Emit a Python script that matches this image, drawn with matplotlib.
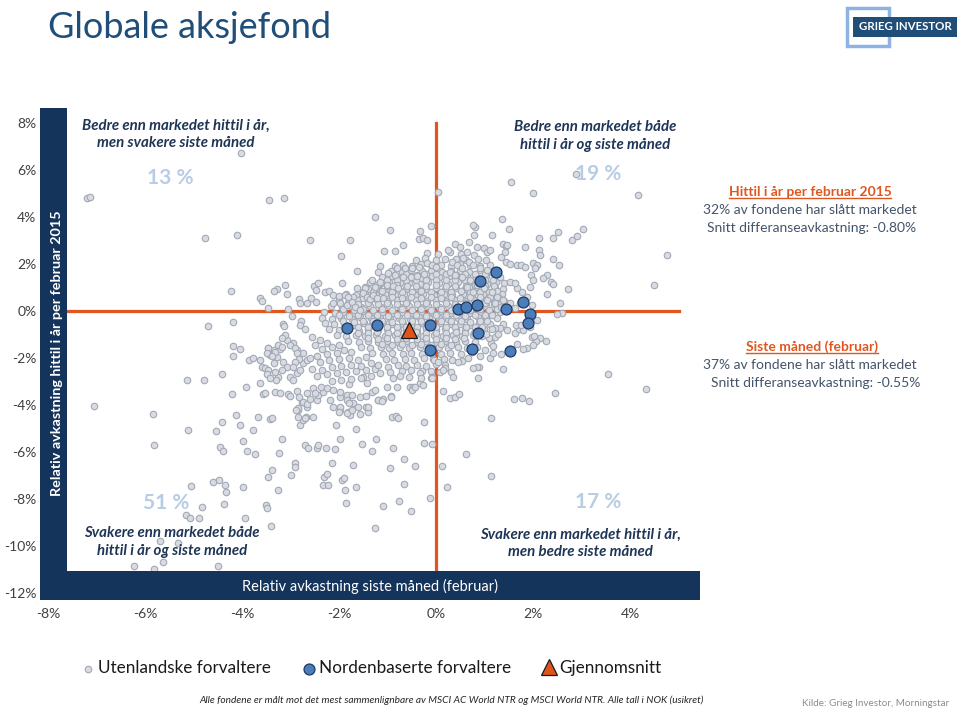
import matplotlib
matplotlib.use('Agg')
import matplotlib.pyplot as plt
from matplotlib.patches import Rectangle
from matplotlib.lines import Line2D

plt.rcParams['font.family'] = ['Lato', 'DejaVu Sans']

# ---------------- data (percent) ----------------
xticks = [-8, -6, -4, -2, 0, 2, 4]
xtick_labels = ['-8%', '-6%', '-4%', '-2%', '0%', '2%', '4%']
yticks = [-12, -10, -8, -6, -4, -2, 0, 2, 4, 6, 8]
ytick_labels = ['-12%', '-10%', '-8%', '-6%', '-4%', '-2%', '0%', '2%', '4%', '6%', '8%']

foreign_upper_left = [
    (-7.20, 4.81), (-7.14, 4.87), (-4.02, 6.74), (-3.44, 4.72), (-3.13, 4.81), (-4.76, 3.11), (-4.10, 3.23),
    (-2.60, 3.02), (-1.77, 3.02), (-1.96, 2.34), (-1.63, 1.70), (-4.23, 0.85), (-3.11, 1.11), (-3.28, 0.94),
    (-3.34, 0.85), (-3.07, 0.72), (-3.63, 0.55), (-3.59, 0.43), (-3.46, 0.13), (-3.05, 0.09), (-2.82, 0.51),
    (-2.80, 0.34), (-2.52, 1.06), (-2.43, 1.19), (-2.47, 0.89), (-2.58, 0.55), (-2.66, 0.34), (-1.94, 1.19),
    (-1.46, 1.02), (-1.26, 4.01), (-0.95, 3.43), (-0.33, 3.40), (-0.36, 3.06), (-0.27, 3.09), (-0.18, 3.02),
    (-0.10, 3.62), (-1.07, 2.57), (-0.85, 2.57), (-0.69, 2.81), (-1.15, 1.93), (-0.85, 1.93), (-1.19, 1.65),
    (-0.98, 1.60), (-0.85, 1.53), (-0.69, 1.43), (-0.80, 1.82), (-0.64, 1.82), (-0.50, 1.84), (-0.36, 1.89),
    (-0.19, 2.03), (-0.09, 1.96), (0.01, 1.89), (-0.52, 1.46), (-0.39, 1.50), (-0.25, 1.56), (-1.33, 1.32),
    (-1.22, 1.11), (-1.15, 1.25), (-1.46, 0.99), (-1.26, 1.03), (-1.02, 1.11), (-0.88, 1.08), (-0.78, 0.99),
    (-2.29, 0.82), (-2.20, 0.85), (-2.12, 0.68), (-1.99, 0.64), (-1.88, 0.68), (-1.81, 0.60), (-2.47, 0.37),
    (-2.12, 0.33), (-1.98, 0.35), (-1.84, 0.26), (-1.74, 0.40), (-1.67, 0.18), (-1.57, 0.04), (-1.50, 0.75),
    (-1.43, 0.61), (-1.36, 0.51), (-1.29, 0.68), (-1.22, 0.54),
]

foreign_upper_right = [
    (0.04, 5.06), (1.55, 5.49), (2.00, 5.02), (4.16, 4.94), (2.89, 5.83), (4.76, 2.40), (4.49, 1.11),
    (1.37, 3.93), (1.51, 3.48), (0.80, 3.59), (0.77, 3.66), (0.79, 3.23), (1.16, 3.23), (1.39, 2.84),
    (1.44, 2.78), (1.84, 2.74), (2.12, 3.11), (2.42, 3.11), (2.51, 3.35), (2.81, 3.02), (2.91, 3.20),
    (3.04, 3.49), (2.12, 2.60), (2.14, 2.38), (2.41, 2.21), (2.54, 1.94), (2.01, 2.06), (2.08, 1.94),
    (1.68, 1.94), (1.76, 1.94), (1.84, 1.89), (2.73, 0.92), (2.56, 0.35), (2.60, -0.10), (2.29, 1.53),
    (2.38, 1.23), (2.41, 1.16), (2.20, 1.39), (2.29, 0.72), (2.49, -0.14), (0.39, 2.84), (0.25, 2.60),
    (0.49, 2.71), (0.63, 2.52), (0.69, 2.95), (0.84, 2.74), (0.98, 2.67), (1.05, 2.52), (1.11, 2.60),
    (1.46, 2.81), (1.42, 2.52), (1.34, 2.31), (1.44, 2.10), (1.53, 1.99), (2.04, 1.82), (1.95, 1.53),
    (2.01, 1.32), (1.94, 1.03), (1.87, 0.61), (1.77, 0.80), (1.66, 0.97), (1.73, 0.33), (1.97, 0.26),
    (0.56, 2.24), (0.67, 2.10), (0.77, 1.96), (0.91, 1.82), (1.05, 1.74), (1.18, 1.60), (1.32, 1.46),
    (1.53, 1.25), (1.63, 1.18), (0.32, 2.10), (0.43, 1.96), (0.53, 1.82), (0.29, 1.67), (0.39, 1.53),
    (0.53, 1.46), (0.70, 1.32), (0.84, 1.11), (0.98, 0.97), (1.15, 0.82), (1.25, 0.61), (1.39, 0.47),
    (1.53, 0.33), (1.63, 0.11), (0.63, 1.03), (0.77, 0.82), (0.91, 0.61), (1.05, 0.47), (1.22, 0.33),
    (1.35, 0.18), (1.49, 0.04),
]

foreign_lower_right = [
    (2.08, -0.38), (2.14, -1.16), (2.27, -1.26), (2.06, -1.26), (2.01, -1.45), (1.97, -1.09), (2.02, -1.05),
    (1.68, -1.42), (1.87, -1.59), (1.80, -1.63), (1.63, -0.95), (1.72, -0.78), (1.79, -0.81), (1.65, -0.60),
    (1.75, -0.60), (1.94, -0.69), (1.46, -0.81), (1.38, -0.55), (1.34, -1.84), (1.11, -1.99), (1.18, -1.77),
    (1.13, -1.37), (1.18, -1.49), (1.22, -1.09), (1.28, -0.98), (1.32, -0.74), (1.22, -0.71), (1.15, -0.78),
    (1.09, -1.16), (1.03, -0.98), (0.88, -2.40), (0.84, -2.40), (0.76, -2.44), (0.87, -2.84), (1.39, -2.47),
    (0.54, -2.11), (0.46, -2.16), (0.30, -2.58), (0.36, -2.80), (0.19, -2.44), (0.15, -2.51), (0.15, -3.39),
    (0.29, -3.69), (0.39, -3.65), (0.48, -3.53), (1.61, -3.73), (1.78, -3.69), (1.91, -3.83), (2.45, -3.48),
    (1.14, -4.57), (3.55, -2.68), (4.33, -3.31), (0.62, -6.10), (1.13, -7.02), (0.23, -7.48), (0.12, -6.60),
    (-0.05, -2.09), (0.05, -2.16), (-0.09, -2.80), (0.85, -1.55), (1.00, -1.65), (0.75, -1.75), (0.90, -1.90),
    (0.65, -2.00), (0.70, -1.60),
]

foreign_lower_left = [
    (-0.12, -7.97), (-0.24, -5.63), (-0.09, -5.67), (-0.25, -4.71), (-0.43, -6.60), (-0.67, -6.30),
    (-0.89, -5.84), (-0.95, -6.69), (-0.67, -7.35), (-0.77, -8.09), (-0.52, -8.51), (-1.10, -8.29),
    (-1.25, -9.25), (-1.23, -5.43), (-1.31, -5.96), (-0.91, -4.52), (-0.82, -4.47), (-0.79, -4.54),
    (-1.20, -3.79), (-1.09, -3.73), (-0.93, -3.60), (-1.44, -4.10), (-1.40, -4.29), (-0.54, -3.25),
    (-0.47, -3.22), (-0.33, -3.08), (-0.10, -2.86), (-1.33, -3.43), (-1.43, -3.08), (-1.50, -2.80),
    (-7.05, -4.04), (-5.83, -4.40), (-5.81, -5.71), (-5.14, -2.94), (-4.78, -2.94), (-4.42, -2.69),
    (-4.19, -1.91), (-4.04, -1.62), (-4.19, -1.49), (-5.11, -5.06), (-4.54, -5.09), (-4.42, -4.71),
    (-4.45, -5.77), (-4.39, -5.94), (-4.13, -4.44), (-4.04, -4.85), (-3.97, -5.54), (-3.90, -5.94),
    (-3.73, -6.09), (-3.77, -5.06), (-3.66, -4.52), (-3.42, -4.61), (-4.20, -3.54), (-3.92, -3.22),
    (-3.63, -3.08), (-3.56, -3.54), (-3.32, -3.45), (-3.22, -3.50), (-3.05, -3.54), (-5.05, -7.43),
    (-4.59, -7.29), (-4.47, -7.19), (-4.36, -7.40), (-4.32, -7.71), (-3.97, -7.49), (-4.82, -8.35),
    (-5.16, -8.68), (-5.07, -8.82), (-4.88, -8.82), (-4.37, -8.21), (-3.94, -8.82), (-3.51, -8.24),
    (-3.49, -8.40), (-3.40, -9.15), (-3.26, -7.62), (-3.46, -7.08), (-3.39, -6.77), (-3.17, -5.43),
    (-3.23, -6.04), (-3.00, -6.98), (-2.90, -6.48), (-2.91, -6.63), (-2.70, -5.70), (-2.63, -5.84),
    (-2.45, -5.82), (-2.43, -5.70), (-2.27, -5.84), (-2.08, -5.86), (-2.32, -7.40), (-2.23, -7.42),
    (-2.30, -7.05), (-2.24, -6.94), (-2.15, -6.48), (-1.94, -7.19), (-1.90, -7.09), (-1.88, -7.62),
    (-1.86, -8.18), (-1.64, -7.48), (-1.72, -6.55), (-1.53, -5.67), (-1.64, -5.01), (-1.97, -5.43),
    (-2.07, -4.84), (-1.81, -4.29), (-1.77, -4.43), (-6.22, -10.85), (-5.81, -10.99), (-4.50, -10.85),
    (-5.62, -10.69), (-5.31, -9.89), (-5.69, -9.77), (-2.80, -4.85), (-2.74, -4.64), (-2.68, -4.52),
    (-2.84, -4.21), (-4.70, -0.64), (-4.18, -0.47), (-3.46, -1.57), (-3.86, -2.09), (-3.77, -2.01),
    (-3.63, -2.09), (-3.42, -1.87), (-3.35, -1.66), (-3.22, -1.63), (-3.28, -1.94), (-3.35, -2.23),
    (-3.15, -2.16), (-3.08, -2.37), (-3.18, -2.51), (-3.25, -2.80), (-3.01, -2.80), (-2.94, -2.94),
    (-2.87, -2.65), (-2.80, -2.51), (-2.74, -2.23), (-2.67, -2.09), (-2.74, -1.80), (-2.87, -1.66),
    (-2.94, -1.37), (-3.08, -1.23), (-3.11, -1.02), (-2.67, -3.50), (-2.77, -3.86), (-2.67, -4.07),
    (-2.46, -3.79), (-2.43, -3.57), (-2.32, -3.43), (-2.53, -3.29), (-2.19, -3.79), (-2.12, -4.07),
    (-1.98, -3.65), (-1.84, -3.57), (-1.98, -4.21), (-1.84, -4.36), (-1.71, -3.93), (-1.57, -3.65),
    (-3.16, -0.55), (-3.13, -0.64), (-2.96, -0.21), (-2.78, -0.43), (-2.80, -0.60), (-2.70, -0.78),
    (-3.17, -1.16), (-3.25, -1.43), (-3.18, -1.54), (-3.46, -1.59), (-3.49, -1.80), (-3.32, -1.73),
    (-3.39, -1.90), (-3.01, -1.45), (-2.91, -1.59), (-2.87, -1.80), (-2.82, -2.06), (-2.91, -2.16),
    (-2.94, -2.37), (-3.59, -2.37), (-3.53, -2.44), (-3.46, -2.51), (-3.49, -2.68), (-3.32, -2.58),
    (-3.30, -2.94), (-3.42, -2.86), (-3.53, -3.50), (-3.02, -3.60), (-2.87, -3.40), (-2.82, -3.65),
    (-2.75, -3.86), (-2.67, -3.97), (-2.84, -4.11), (-2.89, -4.21), (-2.60, -3.74), (-2.49, -3.50),
    (-2.37, -3.25), (-2.25, -3.26), (-2.12, -3.36), (-1.98, -3.43), (-1.79, -3.11), (-1.74, -3.57),
    (-1.84, -3.79), (-1.98, -4.07), (-2.00, -4.29), (-1.80, -3.90), (-1.74, -4.21), (-1.60, -4.07),
    (-1.57, -4.38), (-1.40, -4.10), (-1.44, -3.60), (-1.26, -3.36), (-1.19, -3.79), (-1.12, -3.82),
    (-0.93, -3.65), (-1.02, -3.22), (-0.81, -3.22), (-0.89, -2.86), (-0.50, -3.36), (-0.43, -3.25),
    (-0.27, -3.16), (-0.09, -2.86), (-0.33, -2.65), (-3.39, -4.54), (-2.84, -4.50), (-2.70, -4.57),
    (-2.53, -4.50), (-2.55, -1.10), (-2.40, -1.25), (-2.25, -1.35), (-2.50, -1.45), (-2.35, -1.60),
    (-2.15, -1.55), (-2.00, -1.45), (-1.90, -1.65), (-1.75, -1.75), (-2.05, -1.80), (-2.25, -1.85),
    (-2.45, -1.90), (-2.60, -2.00), (-2.40, -2.15), (-2.20, -2.10), (-2.00, -2.05), (-1.80, -2.00),
    (-1.60, -2.10), (-1.45, -1.95), (-1.35, -2.20), (-1.55, -2.35), (-1.75, -2.30), (-1.95, -2.35),
    (-2.15, -2.40), (-2.35, -2.50), (-2.55, -2.45), (-2.45, -2.75), (-2.25, -2.70), (-2.05, -2.65),
    (-1.85, -2.60), (-1.65, -2.55), (-1.45, -2.50), (-1.25, -2.45), (-1.15, -2.65), (-1.35, -2.75),
    (-1.55, -2.85), (-1.75, -2.90), (-1.95, -2.95), (-2.15, -3.00), (-1.20, -2.30), (-1.00, -2.40),
    (-0.95, -2.60), (-0.70, -2.55), (-0.75, -2.75), (-0.55, -2.80), (-0.30, -2.85),
]

foreign_core = [
    (-0.18, 2.47), (0.04, 2.42), (0.28, 2.50), (0.52, 2.44), (0.78, 2.40),
    (-0.42, 2.18), (-0.22, 2.24), (0.00, 2.17), (0.19, 2.22), (0.41, 2.20), (0.62, 2.16), (0.86, 2.23), (1.04, 2.19),
    (-0.68, 1.97), (-0.50, 1.93), (-0.31, 1.98), (-0.10, 1.94), (0.10, 1.96), (0.30, 1.92), (0.49, 1.98),
    (0.71, 1.95), (0.90, 1.91), (1.12, 1.97),
    (-0.92, 1.72), (-0.70, 1.68), (-0.52, 1.73), (-0.29, 1.69), (-0.10, 1.71), (0.12, 1.67), (0.31, 1.72),
    (0.50, 1.70), (0.69, 1.66), (0.91, 1.73), (1.10, 1.69), (1.28, 1.71),
    (-1.12, 1.44), (-0.90, 1.48), (-0.71, 1.43), (-0.49, 1.46), (-0.31, 1.42), (-0.09, 1.47), (0.07, 1.44),
    (0.26, 1.48), (0.46, 1.43), (0.64, 1.46), (0.86, 1.42), (1.04, 1.47), (1.24, 1.44),
    (-1.36, 1.22), (-1.14, 1.18), (-0.96, 1.23), (-0.74, 1.19), (-0.56, 1.21), (-0.34, 1.17), (-0.16, 1.22),
    (0.06, 1.20), (0.24, 1.16), (0.46, 1.23), (0.66, 1.19), (0.84, 1.21), (1.06, 1.17), (1.24, 1.22), (1.41, 1.20),
    (-1.62, 0.97), (-1.41, 0.93), (-1.19, 0.96), (-1.01, 0.92), (-0.79, 0.97), (-0.61, 0.94), (-0.39, 0.98),
    (-0.21, 0.93), (0.01, 0.96), (0.19, 0.92), (0.41, 0.97), (0.59, 0.94), (0.81, 0.98), (0.99, 0.93),
    (1.21, 0.96), (1.39, 0.92),
    (-1.86, 0.72), (-1.64, 0.68), (-1.46, 0.71), (-1.24, 0.67), (-1.06, 0.73), (-0.84, 0.69), (-0.66, 0.72),
    (-0.44, 0.68), (-0.26, 0.71), (-0.04, 0.67), (0.16, 0.72), (0.34, 0.69), (0.56, 0.73), (0.74, 0.68),
    (0.96, 0.71), (1.14, 0.67), (1.36, 0.72),
    (-2.01, 0.47), (-1.79, 0.43), (-1.61, 0.46), (-1.39, 0.42), (-1.21, 0.47), (-0.99, 0.44), (-0.81, 0.48),
    (-0.59, 0.43), (-0.41, 0.46), (-0.19, 0.42), (0.01, 0.47), (0.21, 0.44), (0.39, 0.48), (0.61, 0.43),
    (0.79, 0.46), (1.01, 0.42), (1.19, 0.47), (1.41, 0.44),
    (-2.16, 0.22), (-1.94, 0.18), (-1.76, 0.21), (-1.54, 0.17), (-1.36, 0.23), (-1.14, 0.19), (-0.96, 0.22),
    (-0.74, 0.18), (-0.56, 0.21), (-0.34, 0.17), (-0.16, 0.22), (0.06, 0.19), (0.24, 0.23), (0.46, 0.18),
    (0.64, 0.21), (0.86, 0.17), (1.04, 0.22), (1.26, 0.19), (1.44, 0.20),
    (-2.31, -0.03), (-2.09, -0.07), (-1.91, -0.04), (-1.69, -0.08), (-1.51, -0.02), (-1.29, -0.06),
    (-1.11, -0.03), (-0.89, -0.07), (-0.71, -0.04), (-0.49, -0.08), (-0.31, -0.03), (-0.09, -0.06),
    (0.11, -0.02), (0.29, -0.07), (0.51, -0.04), (0.69, -0.08), (0.91, -0.03), (1.09, -0.06), (1.31, -0.04),
    (-2.36, -0.28), (-2.14, -0.32), (-1.96, -0.29), (-1.74, -0.33), (-1.56, -0.27), (-1.34, -0.31),
    (-1.16, -0.28), (-0.94, -0.32), (-0.76, -0.29), (-0.54, -0.33), (-0.36, -0.27), (-0.14, -0.31),
    (0.06, -0.28), (0.24, -0.32), (0.46, -0.29), (0.64, -0.33), (0.86, -0.27), (1.04, -0.31), (1.26, -0.29),
    (-2.29, -0.53), (-2.11, -0.57), (-1.89, -0.54), (-1.71, -0.58), (-1.49, -0.52), (-1.31, -0.56),
    (-1.09, -0.53), (-0.91, -0.57), (-0.69, -0.54), (-0.51, -0.58), (-0.29, -0.52), (-0.11, -0.56),
    (0.09, -0.53), (0.31, -0.57), (0.49, -0.54), (0.71, -0.58), (0.89, -0.52), (1.11, -0.56),
    (-2.21, -0.78), (-1.99, -0.82), (-1.81, -0.79), (-1.59, -0.83), (-1.41, -0.77), (-1.19, -0.81),
    (-1.01, -0.78), (-0.79, -0.82), (-0.61, -0.79), (-0.39, -0.83), (-0.21, -0.77), (0.01, -0.81),
    (0.19, -0.78), (0.41, -0.82), (0.59, -0.79), (0.81, -0.83), (0.99, -0.78),
    (-2.04, -1.03), (-1.86, -1.07), (-1.64, -1.04), (-1.46, -1.08), (-1.24, -1.02), (-1.06, -1.06),
    (-0.84, -1.03), (-0.66, -1.07), (-0.44, -1.04), (-0.26, -1.08), (-0.04, -1.02), (0.14, -1.06),
    (0.36, -1.03), (0.54, -1.07), (0.76, -1.04), (0.94, -1.08),
    (-1.81, -1.28), (-1.59, -1.32), (-1.41, -1.29), (-1.19, -1.33), (-1.01, -1.27), (-0.79, -1.31),
    (-0.61, -1.28), (-0.39, -1.32), (-0.21, -1.29), (0.01, -1.33), (0.19, -1.27), (0.41, -1.31),
    (0.59, -1.28), (0.81, -1.32),
    (-1.54, -1.53), (-1.36, -1.57), (-1.14, -1.54), (-0.96, -1.58), (-0.74, -1.52), (-0.56, -1.56),
    (-0.34, -1.53), (-0.16, -1.57), (0.06, -1.54), (0.24, -1.58), (0.46, -1.52), (0.64, -1.56),
    (-1.31, -1.78), (-1.09, -1.82), (-0.91, -1.79), (-0.69, -1.83), (-0.51, -1.77), (-0.29, -1.81),
    (-0.11, -1.78), (0.11, -1.82), (0.29, -1.79), (0.51, -1.83),
    (-1.04, -2.03), (-0.86, -2.07), (-0.64, -2.04), (-0.46, -2.08), (-0.24, -2.02), (-0.06, -2.06),
    (0.16, -2.03), (0.34, -2.07),
    (-0.79, -2.28), (-0.61, -2.32), (-0.39, -2.29), (-0.21, -2.33), (0.01, -2.27), (0.19, -2.31),
    (-0.51, -2.53), (-0.29, -2.57), (-0.11, -2.54), (0.09, -2.58),
]

foreign_core_inner = [
    (-0.61, 1.58), (-0.40, 1.55), (-0.21, 1.59), (0.01, 1.56), (0.20, 1.58), (0.41, 1.55), (0.59, 1.59),
    (0.80, 1.56), (1.00, 1.58),
    (-1.01, 1.33), (-0.80, 1.30), (-0.61, 1.34), (-0.41, 1.31), (-0.20, 1.33), (0.00, 1.30), (0.21, 1.34),
    (0.39, 1.31), (0.60, 1.33), (0.81, 1.30), (1.00, 1.34), (1.18, 1.31),
    (-1.21, 1.08), (-1.00, 1.05), (-0.81, 1.09), (-0.60, 1.06), (-0.41, 1.08), (-0.20, 1.05), (0.01, 1.09),
    (0.20, 1.06), (0.40, 1.08), (0.61, 1.05), (0.80, 1.09), (1.01, 1.06), (1.20, 1.08),
    (-1.51, 0.83), (-1.30, 0.80), (-1.11, 0.84), (-0.90, 0.81), (-0.71, 0.83), (-0.50, 0.80), (-0.31, 0.84),
    (-0.10, 0.81), (0.11, 0.83), (0.30, 0.80), (0.51, 0.84), (0.70, 0.81), (0.91, 0.83), (1.10, 0.80),
    (1.25, 0.84),
    (-1.71, 0.58), (-1.50, 0.55), (-1.31, 0.59), (-1.10, 0.56), (-0.91, 0.58), (-0.70, 0.55), (-0.51, 0.59),
    (-0.30, 0.56), (-0.11, 0.58), (0.10, 0.55), (0.31, 0.59), (0.50, 0.56), (0.71, 0.58), (0.90, 0.55),
    (1.11, 0.59), (1.30, 0.56),
    (-1.81, 0.33), (-1.60, 0.30), (-1.41, 0.34), (-1.20, 0.31), (-1.01, 0.33), (-0.80, 0.30), (-0.61, 0.34),
    (-0.40, 0.31), (-0.21, 0.33), (0.00, 0.30), (0.21, 0.34), (0.40, 0.31), (0.61, 0.33), (0.80, 0.30),
    (1.01, 0.34), (1.20, 0.31), (1.35, 0.33),
    (-1.91, 0.08), (-1.70, 0.05), (-1.51, 0.09), (-1.30, 0.06), (-1.11, 0.08), (-0.90, 0.05), (-0.71, 0.09),
    (-0.50, 0.06), (-0.31, 0.08), (-0.10, 0.05), (0.11, 0.09), (0.30, 0.06), (0.51, 0.08), (0.70, 0.05),
    (0.91, 0.09), (1.10, 0.06), (1.25, 0.08),
    (-2.01, -0.17), (-1.80, -0.20), (-1.61, -0.16), (-1.40, -0.19), (-1.21, -0.17), (-1.00, -0.20),
    (-0.81, -0.16), (-0.60, -0.19), (-0.41, -0.17), (-0.20, -0.20), (0.01, -0.16), (0.20, -0.19),
    (0.41, -0.17), (0.60, -0.20), (0.81, -0.16), (1.00, -0.19), (1.15, -0.17),
    (-1.91, -0.42), (-1.70, -0.45), (-1.51, -0.41), (-1.30, -0.44), (-1.11, -0.42), (-0.90, -0.45),
    (-0.71, -0.41), (-0.50, -0.44), (-0.31, -0.42), (-0.10, -0.45), (0.11, -0.41), (0.30, -0.44),
    (0.51, -0.42), (0.70, -0.45), (0.91, -0.41), (1.05, -0.44),
    (-1.81, -0.67), (-1.60, -0.70), (-1.41, -0.66), (-1.20, -0.69), (-1.01, -0.67), (-0.80, -0.70),
    (-0.61, -0.66), (-0.40, -0.69), (-0.21, -0.67), (0.00, -0.70), (0.21, -0.66), (0.40, -0.69),
    (0.61, -0.67), (0.80, -0.70), (0.95, -0.66),
    (-1.61, -0.92), (-1.40, -0.95), (-1.21, -0.91), (-1.00, -0.94), (-0.81, -0.92), (-0.60, -0.95),
    (-0.41, -0.91), (-0.20, -0.94), (0.01, -0.92), (0.20, -0.95), (0.41, -0.91), (0.60, -0.94), (0.78, -0.92),
    (-1.41, -1.17), (-1.20, -1.20), (-1.01, -1.16), (-0.80, -1.19), (-0.61, -1.17), (-0.40, -1.20),
    (-0.21, -1.16), (0.00, -1.19), (0.21, -1.17), (0.40, -1.20), (0.58, -1.16),
    (-1.11, -1.42), (-0.90, -1.45), (-0.71, -1.41), (-0.50, -1.44), (-0.31, -1.42), (-0.10, -1.45),
    (0.11, -1.41), (0.30, -1.44),
]

nordic_x = [-1.84, -1.22, -0.12, -0.12, 0.46, 0.62, 0.85, 0.90, 1.24, 1.45, 1.79, 1.93, 1.89, 0.87, 0.74, 1.53]
nordic_y = [-0.71, -0.61, -0.61, -1.67, 0.07, 0.17, 0.27, 1.28, 1.67, 0.10, 0.40, -0.11, -0.52, -0.94, -1.60, -1.69]

avg_x = [-0.55]
avg_y = [-0.80]

legend_labels = ['Utenlandske forvaltere', 'Nordenbaserte forvaltere', 'Gjennomsnitt']

# ---------------- figure ----------------
W, H = 960, 710
fig = plt.figure(figsize=(9.6, 7.1), dpi=100)
fig.patch.set_facecolor('white')


def fx(px):
    return px / W


def fy(py):
    return 1 - py / H


NAVY = '#14345c'
ORANGE = '#e0561f'

X0, X1 = -8.165, 5.443
Y0, Y1 = -12.30, 8.64
ax = fig.add_axes([fx(40), fy(600), fx(700) - fx(40), fy(108) - fy(600)])
ax.set_xlim(X0, X1)
ax.set_ylim(Y0, Y1)
for s in ax.spines.values():
    s.set_visible(False)
ax.set_xticks(xticks)
ax.set_xticklabels(xtick_labels)
ax.set_yticks(yticks)
ax.set_yticklabels(ytick_labels)
ax.tick_params(axis='both', length=0, labelsize=10, colors='#404040')
ax.tick_params(axis='y', pad=2.5)
ax.tick_params(axis='x', pad=6)

band_right = -7.608
band_top = -11.06
ax.add_patch(Rectangle((X0, Y0), band_right - X0, Y1 - Y0, facecolor=NAVY, edgecolor='none', zorder=6))
ax.add_patch(Rectangle((X0, Y0), X1 - X0, band_top - Y0, facecolor=NAVY, edgecolor='none', zorder=6))

ax.axvline(0, ymin=(band_top - Y0) / (Y1 - Y0), ymax=(8.0 - Y0) / (Y1 - Y0), color=ORANGE, lw=2.3, zorder=2)
ax.axhline(0, xmin=(band_right - X0) / (X1 - X0), xmax=(5.0 - X0) / (X1 - X0), color=ORANGE, lw=2.3, zorder=2)

foreign = (foreign_core + foreign_core_inner + foreign_upper_left + foreign_upper_right
           + foreign_lower_right + foreign_lower_left)
fxs = [p[0] for p in foreign]
fys = [p[1] for p in foreign]
h_grey = ax.scatter(fxs, fys, s=22, facecolor='#d8dbe1', edgecolor='#a2a9b5', linewidth=0.8, zorder=3)
h_blue = ax.scatter(nordic_x, nordic_y, s=62, facecolor='#4a7ebb', edgecolor='#1f3864', linewidth=0.9, zorder=4)
h_avg, = ax.plot(avg_x, avg_y, linestyle='none', marker='^', markersize=11, markerfacecolor='#e0541c',
                 markeredgecolor='#1a1a1a', markeredgewidth=0.9, zorder=5)

# band labels
fig.text(fx(370), fy(586), 'Relativ avkastning siste måned (februar)', color='white', fontsize=10.5,
         ha='center', va='center')
fig.text(fx(57), fy(353), 'Relativ avkastning hittil i år per februar 2015', color='white', fontsize=10.4,
         fontweight='bold', rotation=90, ha='center', va='center')

# title
fig.text(fx(48), fy(38), 'Globale aksjefond', color='#1f4e79', fontsize=26, ha='left', va='baseline')

# logo
fig.patches.append(Rectangle((fx(847), fy(46)), fx(42), 38 / H, transform=fig.transFigure,
                             facecolor='none', edgecolor='#8db3e2', lw=2.5))
fig.patches.append(Rectangle((fx(853), fy(37)), fx(104), 20 / H, transform=fig.transFigure,
                             facecolor='#1f4e79', edgecolor='none'))
fig.text(fx(905), fy(27), 'GRIEG INVESTOR', color='white', fontsize=8.3, fontweight='bold',
         ha='center', va='center')

# quadrant labels
QC = '#1f3556'
qkw = dict(color=QC, fontsize=10.8, fontweight='bold', style='italic', ha='center', va='center', linespacing=1.3)
fig.text(fx(176), fy(134), 'Bedre enn markedet hittil i år,\nmen svakere siste måned', **qkw)
fig.text(fx(595), fy(136), 'Bedre enn markedet både\nhittil i år og siste måned', **qkw)
fig.text(fx(172), fy(542), 'Svakere enn markedet både\nhittil i år og siste måned', **qkw)
fig.text(fx(580), fy(543), 'Svakere enn markedet hittil i år,\nmen bedre siste måned', **qkw)

pkw = dict(color='#b8cce4', fontsize=15, fontweight='bold', ha='center', va='center')
fig.text(fx(170), fy(178), '13 %', **pkw)
fig.text(fx(598), fy(174), '19 %', **pkw)
fig.text(fx(166), fy(503), '51 %', **pkw)
fig.text(fx(598), fy(502), '17 %', **pkw)

# right info block
TXT = '#44546a'
h1 = fig.text(fx(810), fy(196), 'Hittil i år per februar 2015', color=ORANGE, fontsize=10, fontweight='bold',
              ha='center', va='baseline')
fig.text(fx(810), fy(214), '32% av fondene har slått markedet', color=TXT, fontsize=10, ha='center', va='baseline')
fig.text(fx(812), fy(232), 'Snitt differanseavkastning: -0.80%', color=TXT, fontsize=10, ha='center', va='baseline')
h2 = fig.text(fx(812), fy(351), 'Siste måned (februar)', color=ORANGE, fontsize=10, fontweight='bold',
              ha='center', va='baseline')
fig.text(fx(810), fy(369), '37% av fondene har slått markedet', color=TXT, fontsize=10, ha='center', va='baseline')
fig.text(fx(816), fy(387), 'Snitt differanseavkastning: -0.55%', color=TXT, fontsize=10, ha='center', va='baseline')

# legend
for handle, label, px in [(h_grey, legend_labels[0], 81), (h_blue, legend_labels[1], 302),
                          (h_avg, legend_labels[2], 542)]:
    fig.legend([handle], [label], loc='center left', bbox_to_anchor=(fx(px), fy(668)), frameon=False,
               fontsize=12.3, handlelength=0.8, handletextpad=0.2, borderpad=0, borderaxespad=0,
               scatterpoints=1, numpoints=1, labelcolor='#1a1a1a')

# footnotes
fig.text(fx(452), fy(700), 'Alle fondene er målt mot det mest sammenlignbare av MSCI AC World NTR og MSCI World NTR. '
         'Alle tall i NOK (usikret)', color='#262626', fontsize=7.3, style='italic', ha='center', va='center')
fig.text(fx(876), fy(703), 'Kilde: Grieg Investor, Morningstar', color='#8c8c8c', fontsize=7.1,
         ha='center', va='center')

# underline the two headings
fig.canvas.draw()
r = fig.canvas.get_renderer()
for t, ybase in [(h1, 196), (h2, 351)]:
    bb = t.get_window_extent(renderer=r)
    fig.lines.append(Line2D([bb.x0 / W, bb.x1 / W], [fy(ybase + 2)] * 2, transform=fig.transFigure,
                            color=ORANGE, lw=1.0))

fig.savefig('out.png', dpi=100, facecolor='white')
